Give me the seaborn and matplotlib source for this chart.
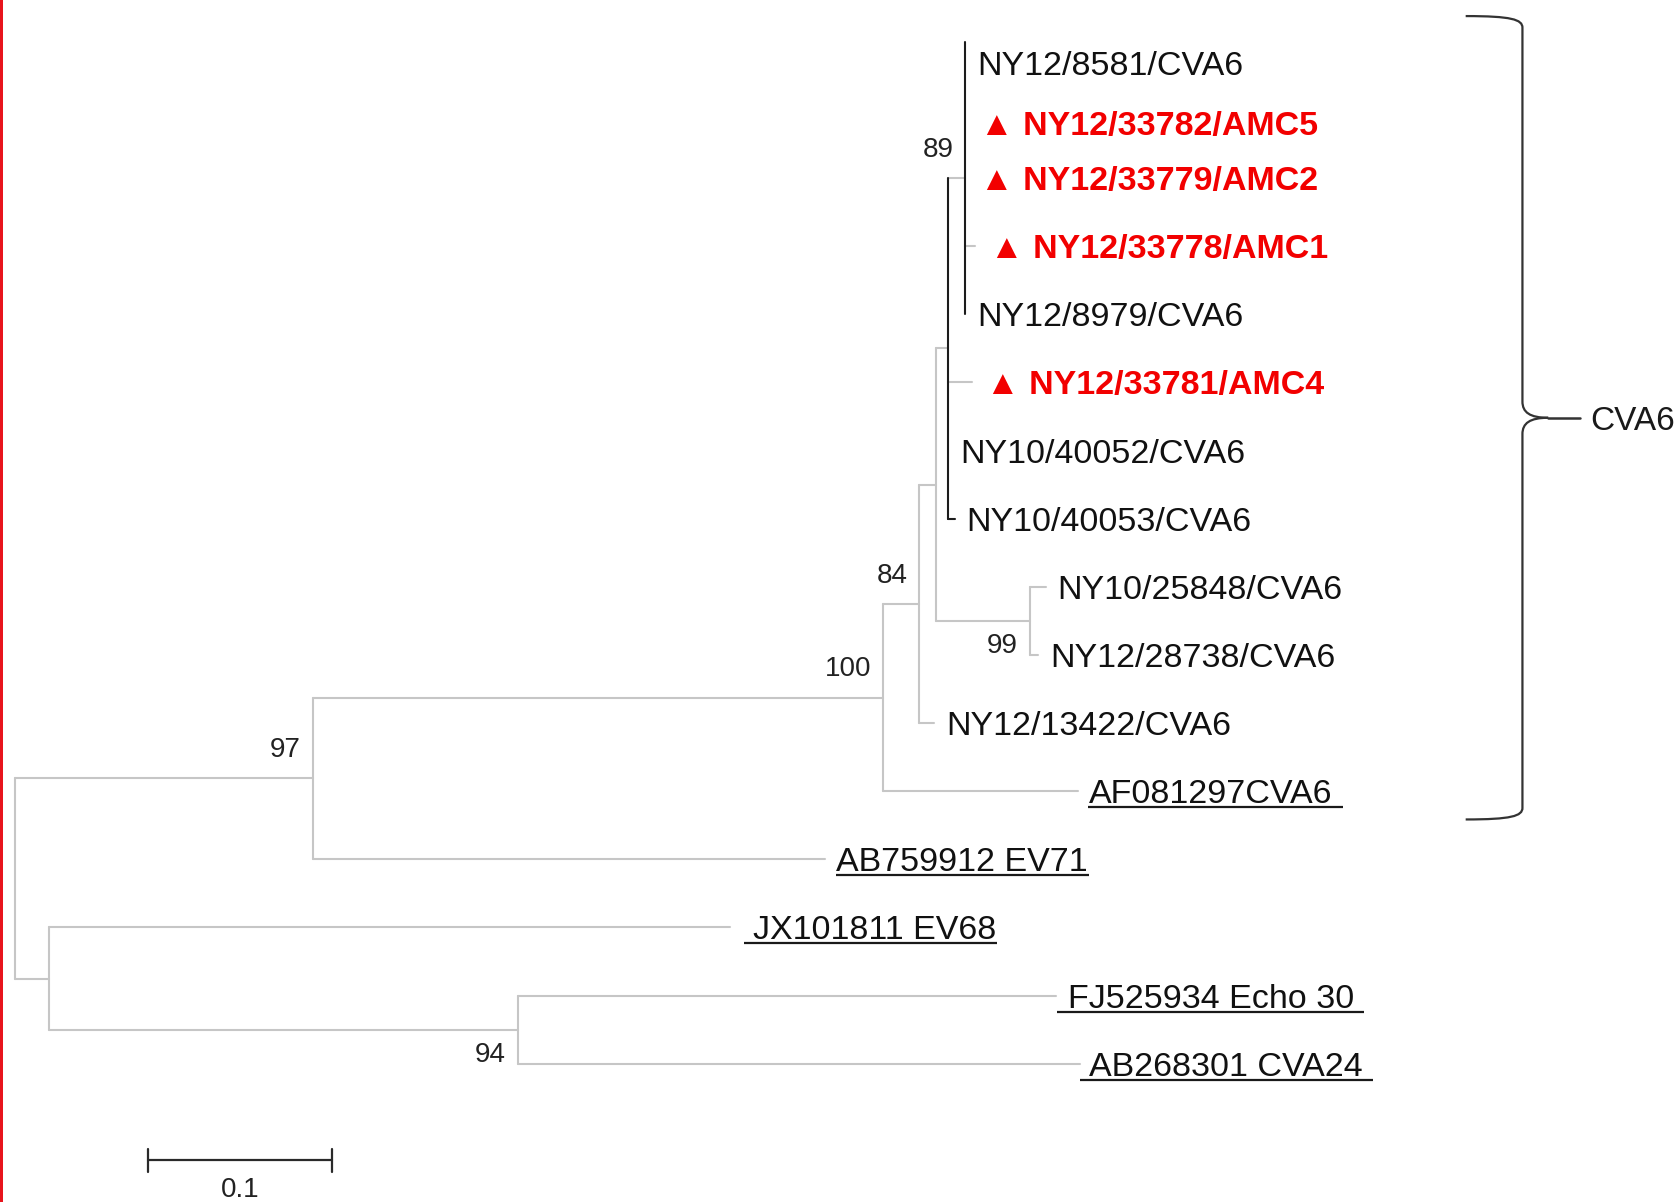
import matplotlib
matplotlib.use("Agg")
import matplotlib.pyplot as plt
from matplotlib.path import Path
from matplotlib.patches import PathPatch, Rectangle
import numpy as np
import pandas as pd
import seaborn as sns

# ---------------- data ----------------
leaf_names = [
    "NY12/8581/CVA6", "NY12/33782/AMC5", "NY12/33779/AMC2", "NY12/33778/AMC1",
    "NY12/8979/CVA6", "NY12/33781/AMC4", "NY10/40052/CVA6", "NY10/40053/CVA6",
    "NY10/25848/CVA6", "NY12/28738/CVA6", "NY12/13422/CVA6", "AF081297CVA6",
    "AB759912 EV71", "JX101811 EV68", "FJ525934 Echo 30", "AB268301 CVA24",
]
# distance from root (substitutions/site)
leaf_depth = [0.5157, 0.5157, 0.5157, 0.5209, 0.5157, 0.5192, 0.5064, 0.5099,
              0.5593, 0.5552, 0.4988, 0.5767, 0.4395, 0.3878, 0.5651, 0.5779]

study_isolates = ["NY12/33782/AMC5", "NY12/33779/AMC2", "NY12/33778/AMC1", "NY12/33781/AMC4"]
reference_strains = ["AF081297CVA6", "AB759912 EV71", "JX101811 EV68",
                     "FJ525934 Echo 30", "AB268301 CVA24"]

node_names = ["n89", "nb", "n99", "nc", "n84", "n100", "n97", "n94", "nev", "root"]
node_depth = [0.5157, 0.5064, 0.5506, 0.5000, 0.4907, 0.4709, 0.1616, 0.2727, 0.0186, 0.0]
node_children = [
    ["NY12/8581/CVA6", "NY12/33782/AMC5", "NY12/33779/AMC2", "NY12/33778/AMC1", "NY12/8979/CVA6"],
    ["n89", "NY12/33781/AMC4", "NY10/40052/CVA6", "NY10/40053/CVA6"],
    ["NY10/25848/CVA6", "NY12/28738/CVA6"],
    ["nb", "n99"],
    ["nc", "NY12/13422/CVA6"],
    ["n84", "AF081297CVA6"],
    ["n100", "AB759912 EV71"],
    ["FJ525934 Echo 30", "AB268301 CVA24"],
    ["JX101811 EV68", "n94"],
    ["n97", "nev"],
]
support_nodes = ["n89", "n84", "n100", "n99", "n97", "n94"]
support_values = [89, 84, 100, 99, 97, 94]
support_below = [False, False, False, True, False, True]

clade_name = "CVA6"
clade_first, clade_last = "NY12/8581/CVA6", "AF081297CVA6"
scale_length = 0.1

# ---------------- styling ----------------
dark_nodes = ["n89", "nb"]
dark_leaf_branches = ["NY10/40053/CVA6"]
label_dy = {"NY12/8581/CVA6": 0.31, "NY12/33782/AMC5": 0.19}
label_off_pt = {"AF081297CVA6": 7.7, "AB759912 EV71": 7.7, "JX101811 EV68": 17.0,
                "FJ525934 Echo 30": 8.5, "AB268301 CVA24": 6.2}
underline_pad_px = {"AF081297CVA6": (0, 11), "AB759912 EV71": (0, 2), "JX101811 EV68": (9, 0),
                    "FJ525934 Echo 30": (11, 10), "AB268301 CVA24": (9, 11)}

sns.set_theme(style="white")
plt.rcParams["font.family"] = ["Liberation Sans", "DejaVu Sans"]

# ---------------- layout computation ----------------
depth = dict(zip(leaf_names, leaf_depth))
depth.update(zip(node_names, node_depth))
children = dict(zip(node_names, node_children))
ypos = {n: float(i) for i, n in enumerate(leaf_names)}


def gety(n):
    if n in ypos:
        return ypos[n]
    c = children[n]
    ypos[n] = (gety(c[0]) + gety(c[-1])) / 2
    return ypos[n]


for n in node_names:
    gety(n)

rows = []
sid = 0
for n in node_names:
    ch = children[n]
    tone = "dark" if n in dark_nodes else "light"
    rows += [(sid, depth[n], ypos[ch[0]], tone), (sid, depth[n], ypos[ch[-1]], tone)]
    sid += 1
    for c in ch:
        tone = "dark" if c in dark_leaf_branches else "light"
        rows += [(sid, depth[n], ypos[c], tone), (sid, depth[c], ypos[c], tone)]
        sid += 1
df = pd.DataFrame(rows, columns=["seg", "x", "y", "tone"])

# ---------------- figure ----------------
fig = plt.figure(figsize=(16.8, 12.02), dpi=100)
fig.patch.set_facecolor("white")
ax = fig.add_axes([0, 0, 1, 1])

sns.lineplot(data=df, x="x", y="y", units="seg", estimator=None, sort=False,
             hue="tone", hue_order=["light", "dark"],
             palette={"light": "#c6c6c6", "dark": "#1c1c1c"},
             legend=False, linewidth=1.5, ax=ax)

ax.set_xlim(-0.00814, 0.9035)
ax.set_ylim(17.03, -0.613)
ax.axis("off")

# leaf labels
texts = {}
for n in leaf_names:
    y = ypos[n] + label_dy.get(n, 0.0)
    if n in study_isolates:
        t = ax.annotate("\u25B2 " + n, (depth[n], y), xytext=(10.5, 0), textcoords="offset points",
                        ha="left", va="center_baseline", fontsize=24.5, fontweight="bold",
                        color="#f20000")
    else:
        t = ax.annotate(n, (depth[n], y), xytext=(label_off_pt.get(n, 8.5), 0),
                        textcoords="offset points", ha="left", va="center_baseline",
                        fontsize=24.5, color="#111111")
    texts[n] = t

# bootstrap support
for n, v, below in zip(support_nodes, support_values, support_below):
    ax.annotate(str(v), (depth[n], ypos[n]), xytext=(-8.5, -16.2 if below else 22.4),
                textcoords="offset points", ha="right", va="center_baseline",
                fontsize=20, color="#222222")

# scale bar
sb_x0, sb_y = 0.0721, 16.415
ax.plot([sb_x0, sb_x0 + scale_length], [sb_y, sb_y], color="#2a2a2a", lw=1.6)
for xx in (sb_x0, sb_x0 + scale_length):
    ax.plot([xx, xx], [sb_y - 0.17, sb_y + 0.17], color="#2a2a2a", lw=1.6)
ax.annotate(f"{scale_length:g}", (sb_x0 + scale_length / 2, sb_y), xytext=(0, -19.5),
            textcoords="offset points", ha="center", va="center_baseline",
            fontsize=20, color="#222222")

# clade brace
ytop = ypos[clade_first] - 0.377
ybot = ypos[clade_last] + 0.415
ymid = (ytop + ybot) / 2
xa, xb, xc, xd = 0.7872, 0.8180, 0.8320, 0.8494
dy_c = 0.25
top_path = Path(
    [(xa, ytop), (xb - 0.006, ytop), (xb, ytop + 0.05), (xb, ytop + 0.17),
     (xb, ymid - 0.24),
     (xb, ymid - 0.08), (xb + 0.004, ymid), (xc, ymid)],
    [Path.MOVETO, Path.CURVE4, Path.CURVE4, Path.CURVE4,
     Path.LINETO, Path.CURVE4, Path.CURVE4, Path.CURVE4])
bot_path = Path(
    [(xa, ybot), (xb - 0.006, ybot), (xb, ybot - 0.05), (xb, ybot - 0.17),
     (xb, ymid + 0.24),
     (xb, ymid + 0.08), (xb + 0.004, ymid), (xc, ymid)],
    [Path.MOVETO, Path.CURVE4, Path.CURVE4, Path.CURVE4,
     Path.LINETO, Path.CURVE4, Path.CURVE4, Path.CURVE4])
for p in (top_path, bot_path):
    ax.add_patch(PathPatch(p, facecolor="none", edgecolor="#333333", lw=1.6))
ax.plot([xc, xd], [ymid, ymid], color="#333333", lw=1.8)
ax.annotate(clade_name, (xd, ymid), xytext=(7, 0), textcoords="offset points",
            ha="left", va="center_baseline", fontsize=24, color="#1a1a1a")

# underlines for reference strains
fig.canvas.draw()
renderer = fig.canvas.get_renderer()
inv = ax.transData.inverted()
for n in reference_strains:
    bb = texts[n].get_window_extent(renderer)
    lp, rp = underline_pad_px[n]
    yline = bb.y0 + 3
    (x0d, y0d), (x1d, _) = inv.transform([(bb.x0 - lp, yline), (bb.x1 + rp, yline)])
    ax.plot([x0d, x1d], [y0d, y0d], color="#1a1a1a", lw=1.6, solid_capstyle="butt")

# red frame line on the left edge
fig.add_artist(Rectangle((0, 0), 3.0 / 1680, 1, transform=fig.transFigure,
                         facecolor="#e8141c", edgecolor="none"))

fig.savefig("out.png", dpi=100, facecolor="white")
